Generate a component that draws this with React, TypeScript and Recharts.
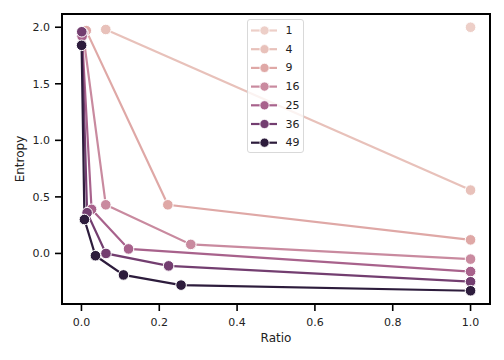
import React from "react";
import {
  LineChart,
  Line,
  XAxis,
  YAxis,
  ReferenceArea,
  Label,
} from "recharts";

// hue levels (n) and their colours, light -> dark
const levels = [1, 4, 9, 16, 25, 36, 49];
const COLORS = ["#edcfc8", "#e8c1ba", "#dfa8a6", "#c98a9f", "#a8628c", "#733e70", "#2d1c3c"];

// ratio / entropy values per level
const ratio1 = [1.0];
const entropy1 = [2.0];
const ratio4 = [0.0625, 1.0];
const entropy4 = [1.98, 0.56];
const ratio9 = [0.0123, 0.222, 1.0];
const entropy9 = [1.97, 0.43, 0.12];
const ratio16 = [0.0039, 0.0625, 0.281, 1.0];
const entropy16 = [1.95, 0.43, 0.08, -0.05];
const ratio25 = [0.0016, 0.026, 0.121, 1.0];
const entropy25 = [1.92, 0.39, 0.04, -0.16];
const ratio36 = [0.0008, 0.0145, 0.063, 0.224, 1.0];
const entropy36 = [1.96, 0.36, 0.0, -0.11, -0.25];
const ratio49 = [0.0004, 0.0077, 0.036, 0.108, 0.256, 1.0];
const entropy49 = [1.84, 0.3, -0.02, -0.19, -0.28, -0.33];

const xTicks = [0, 0.2, 0.4, 0.6, 0.8, 1.0];
const yTicks = [0, 0.5, 1.0, 1.5, 2.0];

const X_DOMAIN: [number, number] = [-0.05, 1.05];
const Y_DOMAIN: [number, number] = [-0.447, 2.117];

const toPoints = (xs: number[], ys: number[]) => xs.map((x, i) => ({ x, y: ys[i] }));

const series = [
  toPoints(ratio1, entropy1),
  toPoints(ratio4, entropy4),
  toPoints(ratio9, entropy9),
  toPoints(ratio16, entropy16),
  toPoints(ratio25, entropy25),
  toPoints(ratio36, entropy36),
  toPoints(ratio49, entropy49),
];

const FONT = "'DejaVu Sans', sans-serif";
const TEXT = "#222";

const LegendBox = () => (
  <div
    style={{
      position: "absolute",
      left: 247,
      top: 19,
      width: 57,
      height: 134,
      boxSizing: "border-box",
      border: "1px solid #d9d9d9",
      borderRadius: 3,
      background: "rgba(255,255,255,0.8)",
    }}
  >
    <svg width={57} height={134} style={{ display: "block" }}>
      {levels.map((n, i) => {
        const cy = 10.5 + i * 18.7;
        return (
          <g key={n}>
            <line x1={3} x2={29} y1={cy} y2={cy} stroke={COLORS[i]} strokeWidth={2.2} />
            <circle cx={16.5} cy={cy} r={4.6} fill={COLORS[i]} stroke="#fff" strokeWidth={0.8} />
            <text
              x={37.5}
              y={cy}
              dominantBaseline="central"
              fontFamily={FONT}
              fontSize={11}
              fill={TEXT}
            >
              {n}
            </text>
          </g>
        );
      })}
    </svg>
  </div>
);

const App = () => {
  return (
    <div style={{ position: "absolute", left: 0, top: 0, width: 504, height: 360, background: "#fff" }}>
      <LineChart
        width={504}
        height={360}
        margin={{ top: 14, right: 14, bottom: 0, left: 0 }}
        style={{ fontFamily: FONT }}
      >
        <XAxis
          dataKey="x"
          type="number"
          domain={X_DOMAIN}
          ticks={xTicks}
          allowDataOverflow
          height={56}
          axisLine={false}
          tickLine={{ stroke: "#000", strokeWidth: 1.6 }}
          tickSize={7}
          tickMargin={7}
          tick={{ fontSize: 11, fill: TEXT }}
          tickFormatter={(v: number) => v.toFixed(1)}
        >
          <Label
            content={({ viewBox }: any) => (
              <text
                x={viewBox.x + viewBox.width / 2}
                y={viewBox.y + 34}
                textAnchor="middle"
                dominantBaseline="central"
                fontSize={12}
                fill={TEXT}
                fontFamily={FONT}
              >
                Ratio
              </text>
            )}
          />
        </XAxis>
        <YAxis
          type="number"
          domain={Y_DOMAIN}
          ticks={yTicks}
          allowDataOverflow
          width={62}
          axisLine={false}
          tickLine={{ stroke: "#000", strokeWidth: 1.6 }}
          tickSize={7}
          tickMargin={5}
          tick={{ fontSize: 11, fill: TEXT }}
          tickFormatter={(v: number) => v.toFixed(1)}
        >
          <Label
            content={({ viewBox }: any) => {
              const cx = viewBox.x + 20;
              const cy = viewBox.y + viewBox.height / 2;
              return (
                <text
                  x={cx}
                  y={cy}
                  transform={`rotate(-90 ${cx} ${cy})`}
                  textAnchor="middle"
                  dominantBaseline="central"
                  fontSize={12}
                  fill={TEXT}
                  fontFamily={FONT}
                >
                  Entropy
                </text>
              );
            }}
          />
        </YAxis>
        <ReferenceArea
          x1={X_DOMAIN[0]}
          x2={X_DOMAIN[1]}
          y1={Y_DOMAIN[0]}
          y2={Y_DOMAIN[1]}
          fill="none"
          stroke="#000"
          strokeWidth={2}
          fillOpacity={0}
          ifOverflow="visible"
        />
        {series.map((pts, i) => (
          <Line
            key={levels[i]}
            data={pts}
            dataKey="y"
            type="linear"
            stroke={COLORS[i]}
            strokeWidth={2.2}
            dot={{ r: 5.3, fill: COLORS[i], stroke: "#fff", strokeWidth: 1, fillOpacity: 1 }}
            activeDot={false}
            isAnimationActive={false}
          />
        ))}
      </LineChart>
      <LegendBox />
    </div>
  );
};

export default App;
